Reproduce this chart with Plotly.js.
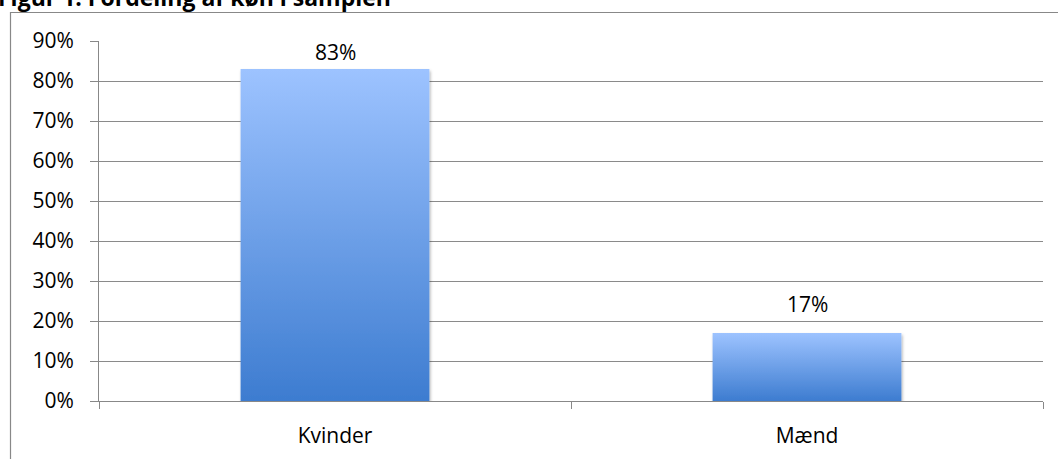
<!DOCTYPE html>
<html>
<head>
<meta charset="utf-8">
<script src="https://cdn.plot.ly/plotly-3.0.1.min.js"></script>
<style>html,body{margin:0;padding:0;background:#fff;}#chart{width:1058px;height:459px;}</style>
</head>
<body>
<div id="chart"></div>
<script>
const categories = ["Kvinder", "Mænd"];
const values = [83, 17];
const valueLabels = ["83%", "17%"];
const tickVals = [0, 10, 20, 30, 40, 50, 60, 70, 80, 90];
const tickText = ["0%", "10%", "20%", "30%", "40%", "50%", "60%", "70%", "80%", "90%"];
const titleText = "Figur 1: Fordeling af køn i samplen";

const font = "'Open Sans', 'Noto Sans', sans-serif";
const fs = 21;
const W = 1058, H = 459;
const margin = {l: 99, r: 15, t: 41, b: 58};
const pw = W - margin.l - margin.r, ph = H - margin.t - margin.b;
const yMax = 90;
const pxPerUnit = ph / yMax;

const trace = {
  type: "bar",
  x: categories,
  y: values,
  marker: {color: "#6A9BE6", line: {width: 0}},
  width: 0.4,
  hoverinfo: "none"
};

// value labels: placed above each bar, kept inside the plot area (Excel-style)
const labelAnnotations = categories.map((c, i) => {
  const room = (yMax - values[i]) * pxPerUnit - 21;
  return {
    x: c, y: values[i], xref: "x", yref: "y",
    text: valueLabels[i],
    showarrow: false,
    xanchor: "center", yanchor: "bottom",
    yshift: Math.min(13, room - 6),
    font: {family: font, size: fs, color: "#000"}
  };
});

const layout = {
  width: W, height: H,
  margin: margin,
  paper_bgcolor: "#fff",
  plot_bgcolor: "#fff",
  showlegend: false,
  font: {family: font, size: fs, color: "#000"},
  xaxis: {
    type: "category",
    showgrid: false,
    showline: true, linecolor: "#888", linewidth: 1,
    ticks: "outside", tickson: "boundaries", ticklen: 7, tickcolor: "#888",
    ticklabelstandoff: 16,
    tickfont: {family: font, size: fs, color: "#000"},
    zeroline: false,
    fixedrange: true
  },
  yaxis: {
    range: [0, yMax],
    tickvals: tickVals,
    ticktext: tickText,
    showgrid: true, gridcolor: "#8a8a8a", gridwidth: 1,
    showline: true, linecolor: "#888", linewidth: 1,
    ticks: "outside", ticklen: 8, tickcolor: "#888",
    ticklabelstandoff: 12,
    tickfont: {family: font, size: fs, color: "#000"},
    zeroline: false,
    fixedrange: true
  },
  shapes: [{
    type: "rect", xref: "paper", yref: "paper", layer: "below",
    x0: (10.5 - margin.l) / pw, x1: (W + 5 - margin.l) / pw,
    y0: -(H + 5 - margin.t - ph) / ph, y1: 1 + (margin.t - 12.5) / ph,
    line: {color: "#888", width: 1.2}, fillcolor: "rgba(0,0,0,0)"
  }],
  annotations: [{
    text: "<b>" + titleText + "</b>",
    xref: "paper", yref: "paper",
    x: (-4 - margin.l) / pw, y: 1 + (margin.t - 15) / ph,
    xanchor: "left", yanchor: "bottom",
    showarrow: false,
    font: {family: font, size: 23, color: "#000"}
  }].concat(labelAnnotations)
};

Plotly.newPlot("chart", [trace], layout, {displayModeBar: false, staticPlot: true}).then(gd => {
  const svg = gd.querySelector("svg.main-svg");
  const ns = "http://www.w3.org/2000/svg";
  let defs = svg.querySelector("defs");
  if (!defs) { defs = document.createElementNS(ns, "defs"); svg.insertBefore(defs, svg.firstChild); }
  const grad = document.createElementNS(ns, "linearGradient");
  grad.setAttribute("id", "barGrad");
  grad.setAttribute("x1", "0"); grad.setAttribute("y1", "0");
  grad.setAttribute("x2", "0"); grad.setAttribute("y2", "1");
  [["0", "#9DC3FF"], ["1", "#3D7CD0"]].forEach(([o, c]) => {
    const s = document.createElementNS(ns, "stop");
    s.setAttribute("offset", o); s.setAttribute("stop-color", c);
    grad.appendChild(s);
  });
  defs.appendChild(grad);
  const filt = document.createElementNS(ns, "filter");
  filt.setAttribute("id", "barShadow");
  filt.setAttribute("x", "-10%"); filt.setAttribute("y", "-10%");
  filt.setAttribute("width", "120%"); filt.setAttribute("height", "120%");
  filt.innerHTML = '<feDropShadow dx="1" dy="2" stdDeviation="1.5" flood-color="#000" flood-opacity="0.3"/>';
  defs.appendChild(filt);
  gd.querySelectorAll(".barlayer .point path").forEach(p => {
    p.style.fill = "url(#barGrad)";
    p.setAttribute("filter", "url(#barShadow)");
  });
});
</script>
</body>
</html>
